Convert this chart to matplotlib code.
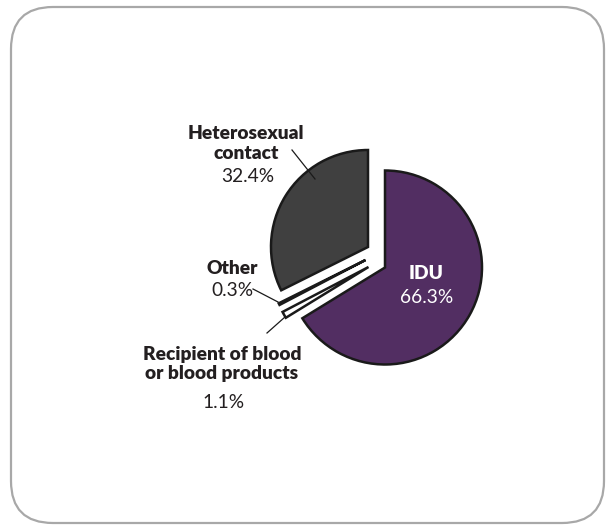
import matplotlib
matplotlib.use("Agg")
import matplotlib.pyplot as plt
from matplotlib.patches import FancyBboxPatch

# Data
categories = ["IDU", "Recipient of blood\nor blood products", "Other", "Heterosexual\ncontact"]
values = [66.3, 1.1, 0.3, 32.4]
pct_labels = ["66.3%", "1.1%", "0.3%", "32.4%"]
colors = ["#522e62", "#ffffff", "#ffffff", "#404040"]

W, H = 608, 527
fig = plt.figure(figsize=(W / 100, H / 100), dpi=100)
ax = fig.add_axes([0, 0, 1, 1])

# rounded border
border = FancyBboxPatch((11, 7), 593, 516, boxstyle="round,pad=0,rounding_size=42",
                        fc="white", ec="#a8a8a8", lw=1.6)
ax.add_patch(border)

R = 97
base = (385, 267.5)
# y axis inverted, so clockwise on screen => counterclock=True with start at -90 (top)
wedges, _ = ax.pie(values, startangle=-90, counterclock=True, radius=R, center=base,
                   colors=colors, wedgeprops=dict(edgecolor="#1a1a1a", linewidth=1.8),
                   frame=True)
ax.set_xlim(0, W)
ax.set_ylim(H, 0)
ax.axis("off")
ax.set_aspect("equal")

offsets = [(0, 0), (-16.5, -0.5), (-19.5, -7.5), (-17, -20.5)]
for w, (dx, dy) in zip(wedges, offsets):
    w.set_center((base[0] + dx, base[1] + dy))

fam = ["Lato", "DejaVu Sans"]
fs = 13.8
tc = "#231f20"

# IDU
ax.text(426, 273.5, "IDU", color="white", fontweight="heavy", fontsize=fs, family=fam,
        ha="center", va="center")
ax.text(427, 297.5, pct_labels[0], color="white", fontsize=fs, family=fam,
        ha="center", va="center")

# Heterosexual contact
ax.text(246, 143.5, categories[3], color=tc, fontweight="heavy", fontsize=fs, family=fam,
        ha="center", va="center", linespacing=1.15)
ax.text(248, 177, pct_labels[3], color=tc, fontsize=fs, family=fam,
        ha="center", va="center")
ax.plot([292, 315], [150, 179], color="#1a1a1a", lw=0.9)

# Other
ax.text(232, 269, categories[2], color=tc, fontweight="heavy", fontsize=fs, family=fam,
        ha="center", va="center")
ax.text(232, 291, pct_labels[2], color=tc, fontsize=fs, family=fam,
        ha="center", va="center")
ax.plot([253, 278], [289, 302], color="#1a1a1a", lw=0.9)

# Recipient
ax.text(222, 364, categories[1], color=tc, fontweight="heavy", fontsize=fs, family=fam,
        ha="center", va="center", linespacing=1.15)
ax.text(224, 403, pct_labels[1], color=tc, fontsize=fs, family=fam,
        ha="center", va="center")
ax.plot([267, 285], [333, 317], color="#1a1a1a", lw=0.9)

fig.savefig("out.png", dpi=100)
